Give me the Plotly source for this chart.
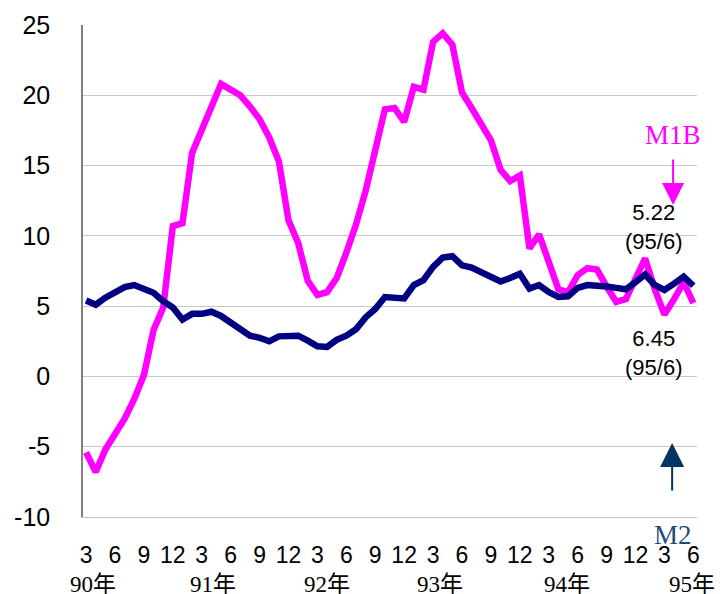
import plotly.graph_objects as go

# month index 0 = 90年3月 ... 63 = 95年6月
m1b = [-5.4, -6.8, -5.2, -4.2, -3.0, -1.6, 0.1, 3.3, 4.9, 10.7,
       10.9, 15.9, 17.5, 19.1, 20.8, 20.4, 20.0, 19.2, 18.3, 17.0,
       15.3, 11.1, 9.5, 6.8, 5.8, 6.0, 7.0, 8.8, 10.8, 13.2,
       15.9, 19.0, 19.1, 18.1, 20.6, 20.4, 23.8, 24.4, 23.6, 20.2,
       19.1, 18.0, 16.8, 14.7, 13.9, 14.3, 9.1, 10.1, 8.2, 6.2,
       6.0, 7.2, 7.7, 7.6, 6.4, 5.3, 5.5, 7.0, 8.4, 6.2,
       4.4, 5.5, 6.7, 5.22]
m2 = [5.4, 5.1, 5.6, 6.0, 6.35, 6.5, 6.25, 5.95, 5.35, 4.9,
      4.05, 4.45, 4.45, 4.6, 4.3, 3.8, 3.3, 2.9, 2.75, 2.5,
      2.85, 2.85, 2.9, 2.55, 2.15, 2.1, 2.6, 2.9, 3.35, 4.2,
      4.8, 5.65, 5.6, 5.55, 6.5, 6.85, 7.8, 8.45, 8.55, 7.9,
      7.75, 7.45, 7.1, 6.75, 7.0, 7.3, 6.25, 6.5, 6.0, 5.65,
      5.7, 6.3, 6.5, 6.5, 6.4, 6.3, 6.2, 6.7, 7.25, 6.5,
      6.15, 6.6, 7.1, 6.45]
month_labels = ["3", "6", "9", "12", "3", "6", "9", "12", "3", "6", "9",
                "12", "3", "6", "9", "12", "3", "6", "9", "12", "3", "6"]
year_labels = ["90年", "91年", "92年", "93年", "94年", "95年"]
year_pos = [0.73, 13.2, 25.0, 36.7, 49.9, 62.9]
y_ticks = [-10, -5, 0, 5, 10, 15, 20, 25]
y_labels = ["-10", "-5", "0", "5", "10", "15", "20", "25"]

x = list(range(len(m1b)))
tickvals = list(range(0, len(m1b), 3))

fig = go.Figure()
fig.add_trace(go.Scatter(x=x, y=m1b, mode="lines", name="M1B",
                         line=dict(color="#FF00FF", width=6.5)))
fig.add_trace(go.Scatter(x=x, y=m2, mode="lines", name="M2",
                         line=dict(color="#000080", width=6.5)))

sans = "Liberation Sans, Arial, sans-serif"
serif = "Liberation Serif, Times New Roman, Noto Sans CJK TC, serif"

anns = []
for lab, pos in zip(year_labels, year_pos):
    anns.append(dict(x=pos, xref="x", y=-0.138, yref="paper", text=lab,
                     showarrow=False, xanchor="center", yanchor="middle",
                     font=dict(family=serif, size=23, color="black")))

anns += [
    dict(x=60.9, y=17.2, text="M1B", showarrow=False,
         font=dict(family=serif, size=27, color="#FF00FF")),
    dict(x=60.9, y=12.2, text="", showarrow=True, arrowhead=2, arrowsize=2.2,
         arrowwidth=2, arrowcolor="#FF00FF", ax=0, ay=-47),
    dict(x=58.85, y=10.6, text="5.22<br>(95/6)", showarrow=False,
         font=dict(family=sans, size=22, color="black")),
    dict(x=58.85, y=1.67, text="6.45<br>(95/6)", showarrow=False,
         font=dict(family=sans, size=22, color="black")),
    dict(x=60.8, y=-4.73, text="", showarrow=True, arrowhead=2, arrowsize=2.4,
         arrowwidth=2, arrowcolor="#003366", ax=0, ay=49),
    dict(x=60.9, y=-0.037, yref="paper", text="M2", showarrow=False,
         yanchor="middle",
         font=dict(family=serif, size=27, color="#1F4E79")),
]

fig.update_layout(
    width=722, height=594,
    margin=dict(l=83, r=25, t=25, b=77, autoexpand=False),
    plot_bgcolor="white", paper_bgcolor="white",
    showlegend=False,
    annotations=anns,
    xaxis=dict(range=[-0.32, 63.38], tickmode="array", tickvals=tickvals,
               ticktext=month_labels, showgrid=False, zeroline=False,
               showline=True, linecolor="#C0C0C0", linewidth=1,
               ticks="", ticklabelstandoff=17, automargin=False,
               tickfont=dict(family=sans, size=23, color="black")),
    yaxis=dict(range=[-10, 25], tickmode="array",
               tickvals=y_ticks, ticktext=y_labels,
               showgrid=True, gridcolor="#C8C8C8", gridwidth=1,
               zeroline=False, showline=True, linecolor="#808080",
               linewidth=1.5, ticks="", ticklabelstandoff=26,
               automargin=False,
               tickfont=dict(family=sans, size=25, color="black")),
)

fig.write_html("out.html", config={"displayModeBar": False},
               post_script="document.body.style.margin='0';"
                           "document.body.style.overflow='hidden';")
